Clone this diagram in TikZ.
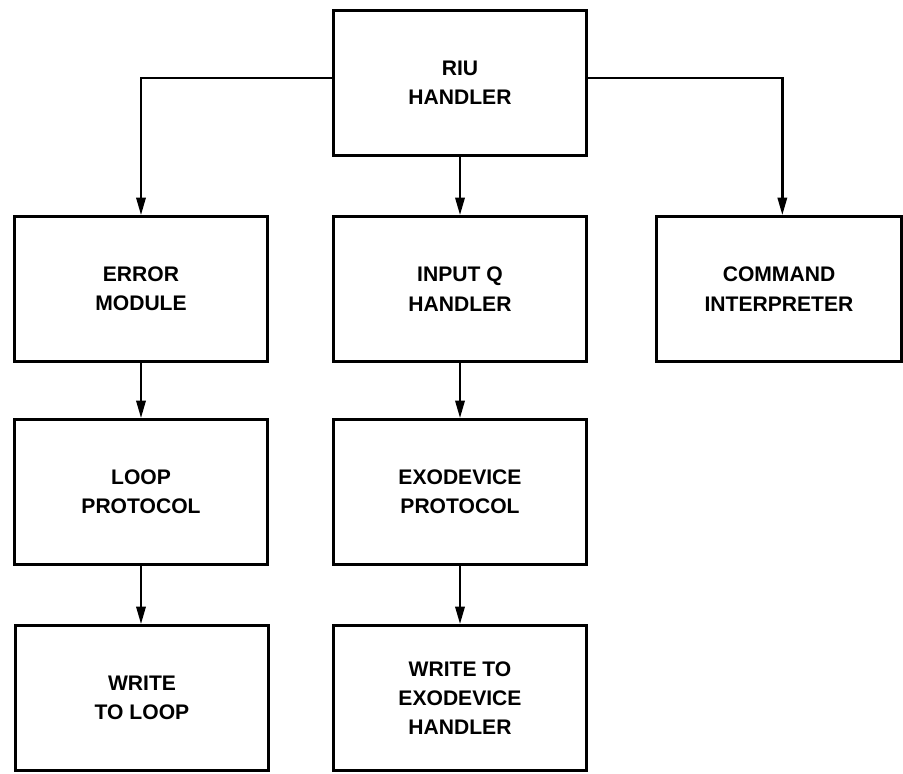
\documentclass[tikz,border=0pt]{standalone}
\usepackage{fontspec}
\setmainfont{Liberation Sans}
\usetikzlibrary{arrows.meta,positioning}
\tikzset{
    box/.style={draw, line width=2.4pt, minimum width=7.6cm,
    minimum height=4.35cm, align=center, text centered,
    font=\fontsize{18}{25}\selectfont\bfseries},
    link/.style={line width=2pt, -{Triangle[length=15pt, width=8pt]}}
}
\begin{document}
\begin{tikzpicture}[x=0.03cm, y=-0.03cm]
    \useasboundingbox (0,0) rectangle (903,773);
    % top
    \node [box] (riu) at (460,83) {RIU\\HANDLER};
    % second row
    \node [box] (error) at (141,289) {ERROR\\MODULE};
    \node [box] (inputq) at (460,289) {INPUT Q\\HANDLER};
    \node [box, minimum width=7.35cm] (command) at (779,289) {COMMAND\\INTERPRETER};
    % third row
    \node [box] (loop) at (141,492) {LOOP\\PROTOCOL};
    \node [box] (exo) at (460,492) {EXODEVICE\\PROTOCOL};
    % bottom row
    \node [box] (wloop) at (142,698) {WRITE\\TO LOOP};
    \node [box] (wexo) at (460,698) {WRITE TO\\EXODEVICE\\HANDLER};
    % connectors
    \draw [link] ([yshift=0.15cm]riu.west) -| (error.north);
    \draw [link] ([yshift=0.15cm]riu.east) -| ([xshift=0.1cm]command.north);
    \draw [link] (riu) -- (inputq);
    \draw [link] (error) -- (loop);
    \draw [link] (inputq) -- (exo);
    \draw [link] (loop) -- (wloop.north -| loop.south);
    \draw [link] (exo) -- (wexo);
\end{tikzpicture}
\end{document}
